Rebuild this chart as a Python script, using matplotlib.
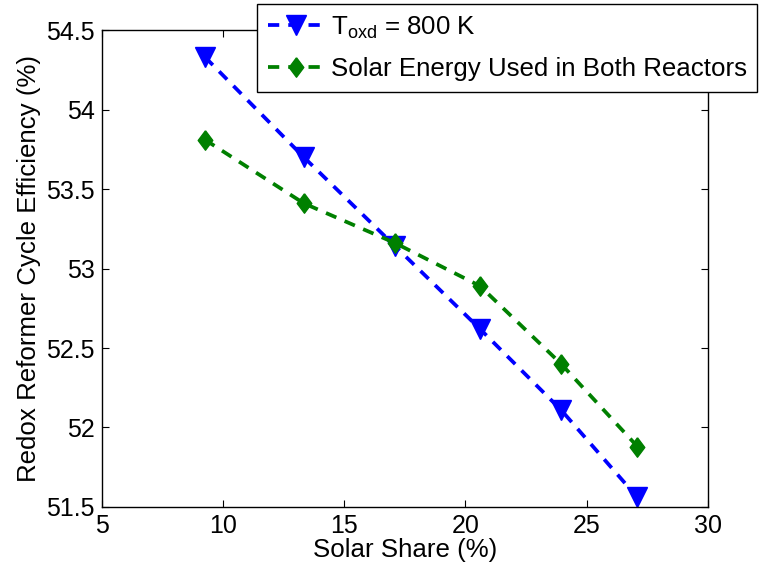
import numpy as np
import matplotlib
matplotlib.use('Agg')
import matplotlib.pyplot as plt

plt.rcParams['font.family'] = ['Liberation Sans', 'DejaVu Sans']
plt.rcParams['mathtext.fontset'] = 'custom'
plt.rcParams['mathtext.rm'] = 'Liberation Sans'
plt.rcParams['mathtext.it'] = 'Liberation Sans:italic'

# Solar share (%) and efficiency (%)
solar_share = [9.25, 13.33, 17.1, 20.6, 23.95, 27.1]
eff_toxd = [54.33, 53.70, 53.14, 52.62, 52.11, 51.56]
eff_both = [53.81, 53.41, 53.16, 52.89, 52.40, 51.88]

label_toxd = r'T$_{\mathrm{oxd}}$ = 800 K'
label_both = 'Solar Energy Used in Both Reactors'

fs_tick = 18
fs_text = 18.6

fig = plt.figure(figsize=(7.61, 5.73), dpi=100)
ax = fig.add_axes([0.134, 0.1152, 0.796, 0.8324])

# MATLAB-like diamond, a bit wider than matplotlib's thin one
diamond = [(0, 1), (0.75, 0), (0, -1), (-0.75, 0), (0, 1)]

dash = (0, (3.0, 2.4))
ax.plot(solar_share, eff_toxd, color=(0, 0, 1), linestyle=dash, linewidth=2.7,
        marker='v', markersize=14, markerfacecolor=(0, 0, 1),
        markeredgecolor=(0, 0, 1), label=label_toxd)
ax.plot(solar_share, eff_both, color=(0, 0.5, 0), linestyle=dash, linewidth=2.7,
        marker=diamond, markersize=14, markerfacecolor=(0, 0.5, 0),
        markeredgecolor=(0, 0.5, 0), label=label_both)

ax.set_xlim(5, 30)
ax.set_ylim(51.5, 54.5)
ax.set_xticks(np.arange(5, 31, 5))
ax.set_yticks(np.arange(51.5, 54.51, 0.5))
ax.set_yticklabels(['51.5', '52', '52.5', '53', '53.5', '54', '54.5'])
ax.tick_params(direction='in', top=True, right=True, length=5, width=0.8,
               labelsize=fs_tick, pad=5)
for s in ax.spines.values():
    s.set_linewidth(1.0)

ax.set_xlabel('Solar Share (%)', fontsize=fs_text, labelpad=0)
ax.set_ylabel('Redox Reformer Cycle Efficiency (%)', fontsize=fs_text, labelpad=4)

leg = ax.legend(loc='upper left', bbox_to_anchor=(0.338, 0.993),
                bbox_transform=fig.transFigure, borderaxespad=0,
                fontsize=fs_text, handlelength=2.2, handletextpad=0.25,
                fancybox=False, framealpha=1, edgecolor='black',
                borderpad=0.4, labelspacing=0.65)
leg.get_frame().set_linewidth(1.0)

fig.savefig('out.png', dpi=100, facecolor='white')
